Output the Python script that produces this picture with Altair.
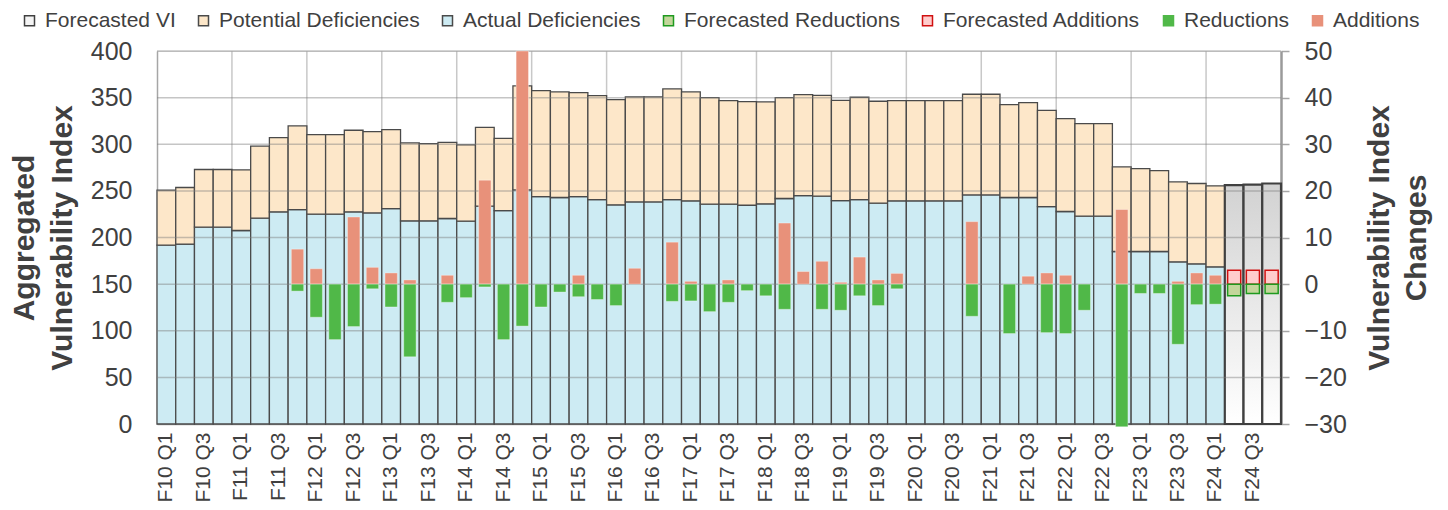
import altair as alt
import pandas as pd

FONT = "Liberation Sans, Arial, sans-serif"
TXT = "#404040"

# ---------------- data ----------------
years = list(range(10, 25))
quarters = [f"F{y} Q{q}" for y in years for q in range(1, 5)]
hist_q = quarters[:57]
fc_q = quarters[57:]

total_vi = [250.7, 253.6, 272.9, 272.9, 272.5, 297.9, 307.1, 319.6, 310.4, 310.4,
            315.0, 313.6, 315.7, 301.4, 300.7, 302.1, 299.3, 318.2, 306.4, 362.5,
            357.5, 356.1, 355.4, 352.1, 347.9, 350.7, 350.7, 359.3, 356.1, 350.0,
            346.8, 345.7, 345.4, 350.0, 353.2, 352.5, 347.1, 350.4, 346.1, 346.8,
            346.8, 346.8, 346.8, 353.6, 353.6, 342.5, 344.6, 336.4, 327.5, 322.1,
            322.1, 275.7, 273.9, 271.8, 259.6, 257.9, 255.4]
actual_def = [191.8, 192.9, 211.1, 211.1, 207.5, 220.7, 227.5, 230.0, 225.0, 225.0,
              227.5, 226.4, 231.0, 217.9, 217.9, 220.4, 217.5, 233.6, 228.9, 251.0,
              243.9, 242.9, 243.9, 240.7, 235.0, 238.2, 238.2, 240.7, 239.3, 235.7,
              235.7, 234.6, 236.1, 241.8, 245.0, 244.3, 239.6, 240.7, 236.8, 239.3,
              239.3, 239.3, 239.3, 245.7, 245.7, 242.9, 242.9, 233.2, 227.9, 222.9,
              222.9, 185.0, 185.0, 185.0, 173.9, 171.8, 168.6]
forecast_vi = [256.1, 256.8, 257.9]

additions = [0, 0, 0, 0, 0, 0, 0, 7.5, 3.3, 0,
             14.4, 3.6, 2.4, 0.9, 0, 1.9, 0, 22.3, 0, 50.0,
             0, 0, 1.9, 0, 0, 3.4, 0, 9.0, 0.6, 0,
             0.9, 0, 0, 13.1, 2.7, 4.9, 0.4, 5.8, 0.9, 2.3,
             0, 0, 0, 13.4, 0, 0, 1.7, 2.4, 1.9, 0,
             0, 16.0, 0, 0, 0.6, 2.4, 1.9]
reductions = [0, 0, 0, 0, 0, 0, 0, -1.5, -7.1, -11.9,
              -9.1, -1.0, -4.9, -15.6, 0, -3.9, -2.9, -0.6, -11.9, -9.0,
              -4.9, -1.7, -2.7, -3.3, -4.6, 0, 0, -3.7, -3.6, -5.9,
              -3.9, -1.4, -2.5, -5.4, 0, -5.4, -5.6, -2.5, -4.6, -1.0,
              0, 0, 0, -6.9, 0, -10.6, 0, -10.4, -10.6, -5.6,
              0, -30.6, -2.0, -2.0, -12.9, -4.4, -4.3]
forecast_add = [3.0, 3.0, 3.0]
forecast_red = [-2.5, -2.0, -2.0]

series_names = ["Forecasted VI", "Potential Deficiencies", "Actual Deficiencies",
                "Forecasted Reductions", "Forecasted Additions", "Reductions", "Additions"]
fill_colors = ["#f4f4f4", "#fde7c9", "#cdebf3", "#c3d69b", "#ffcccc", "#50b848", "#e8917a"]
stroke_colors = ["#404040", "#4a4a4a", "#4a4a4a", "#1f9a1f", "#d01010", "#50b848", "#e8917a"]

year_starts = [q for q in quarters if q.endswith("Q1") and q != quarters[0]]
label_values = [q for q in quarters if q.endswith("Q1") or q.endswith("Q3")]
left_ticks = list(range(0, 401, 50))
right_ticks = list(range(-30, 51, 10))

# ---------------- tables ----------------
stack_rows = []
for q, t, a in zip(hist_q, total_vi, actual_def):
    stack_rows.append({"q": q, "series": "Actual Deficiencies", "v": a, "ord": 0})
    stack_rows.append({"q": q, "series": "Potential Deficiencies", "v": round(t - a, 2), "ord": 1})
stack_df = pd.DataFrame(stack_rows)

fvi_df = pd.DataFrame({"q": fc_q, "v": forecast_vi})

chg_rows = []
for q, a, r in zip(hist_q, additions, reductions):
    if a:
        chg_rows.append({"q": q, "series": "Additions", "v": a})
    if r:
        chg_rows.append({"q": q, "series": "Reductions", "v": r})
chg_df = pd.DataFrame(chg_rows)

fchg_rows = []
for q, a, r in zip(fc_q, forecast_add, forecast_red):
    fchg_rows.append({"q": q, "series": "Forecasted Additions", "v": a})
    fchg_rows.append({"q": q, "series": "Forecasted Reductions", "v": r})
fchg_df = pd.DataFrame(fchg_rows)

vgrid_df = pd.DataFrame({"q": year_starts})
hgrid_df = pd.DataFrame({"g": left_ticks[1:]})

# ---------------- scales / axes ----------------
x_scale = alt.Scale(domain=quarters, paddingInner=0, paddingOuter=0)
x_axis = alt.Axis(values=label_values, labelAngle=270, labelFontSize=21, labelColor=TXT,
                  labelPadding=8, ticks=False, tickSize=0, domainColor="#a6a6a6",
                  domainWidth=1.5, grid=False, title=None, labelOverlap=False, labelFont=FONT)

left_scale = alt.Scale(domain=[0, 400], nice=False, zero=True)
left_axis = alt.Axis(values=left_ticks, title=["Aggregated", "Vulnerability Index"],
                     titleAngle=270, titleFontSize=30, titleFontWeight="bold", titleColor=TXT,
                     titleX=-133, titleY=186.5, titleAlign="center", titleBaseline="middle",
                     titleLineHeight=38, titleFont=FONT,
                     labelFontSize=25, labelColor=TXT, labelPadding=25, labelFont=FONT,
                     ticks=False, tickSize=0, grid=False, domainColor="#a6a6a6", domainWidth=1.5)

right_scale = alt.Scale(domain=[-30, 50], nice=False)
right_axis = alt.Axis(orient="right", values=right_ticks, title=["Vulnerability Index", "Changes"],
                      titleAngle=270, titleFontSize=30, titleFontWeight="bold", titleColor=TXT,
                      titleX=98, titleY=186.5, titleAlign="center", titleBaseline="middle",
                      titleLineHeight=37, titleFont=FONT,
                      labelFontSize=25, labelColor=TXT, labelPadding=15, labelFont=FONT,
                      ticks=True, tickSize=8, tickColor="#a6a6a6", tickWidth=1.5,
                      grid=False, domainColor="#9a9a9a", domainWidth=2.5)

fill_scale = alt.Scale(domain=series_names, range=fill_colors)
stroke_scale = alt.Scale(domain=series_names, range=stroke_colors)
leg = alt.Legend(orient="none", legendX=-138, legendY=-41, direction="horizontal", columns=7,
                 title=None, labelFontSize=21, labelColor=TXT, labelFont=FONT, labelLimit=500,
                 symbolType="square", symbolSize=100, symbolStrokeWidth=1.5,
                 labelOffset=5, columnPadding=17, padding=0)

X = alt.X("q:N", scale=x_scale, axis=x_axis, sort=quarters)

# ---------------- layers ----------------
vgrid = alt.Chart(vgrid_df).mark_rule(color="#c8c8c8", strokeWidth=1.5).encode(
    x=alt.X("q:N", scale=x_scale, axis=x_axis, sort=quarters, bandPosition=0)
)

stacked = alt.Chart(stack_df).mark_bar(strokeWidth=1.3).encode(
    x=X,
    y=alt.Y("v:Q", stack="zero", scale=left_scale, axis=left_axis),
    fill=alt.Fill("series:N", scale=fill_scale, legend=leg),
    stroke=alt.Stroke("series:N", scale=stroke_scale, legend=leg),
    order=alt.Order("ord:Q"),
)

gradient = {"gradient": "linear", "x1": 0, "y1": 0, "x2": 0, "y2": 1,
            "stops": [{"offset": 0, "color": "#d2d2d2"}, {"offset": 1, "color": "#ffffff"}]}
fvi = alt.Chart(fvi_df).mark_bar(fill=gradient, stroke="#404040", strokeWidth=2.2).encode(
    x=X,
    y=alt.Y("v:Q", scale=left_scale, axis=left_axis),
)

hgrid = alt.Chart(hgrid_df).mark_rule(color="#7f7f7f", opacity=0.45, strokeWidth=1.5).encode(
    y=alt.Y("g:Q", scale=left_scale, axis=left_axis)
)

changes = alt.Chart(chg_df).mark_bar(width=alt.RelativeBandSize(0.66), stroke="#ffffff",
                                     strokeOpacity=0.35, strokeWidth=1).encode(
    x=X,
    y=alt.Y("v:Q", scale=right_scale, axis=right_axis, stack=None),
    fill=alt.Fill("series:N", scale=fill_scale, legend=leg),
)

fchanges = alt.Chart(fchg_df).mark_bar(width=alt.RelativeBandSize(0.7), strokeWidth=1.5).encode(
    x=X,
    y=alt.Y("v:Q", scale=right_scale, axis=right_axis, stack=None),
    fill=alt.Fill("series:N", scale=fill_scale, legend=leg),
    stroke=alt.Stroke("series:N", scale=stroke_scale, legend=leg),
)

left_group = alt.layer(vgrid, stacked, fvi, hgrid)
right_group = alt.layer(changes, fchanges)

chart = alt.layer(left_group, right_group).resolve_scale(y="independent").properties(
    width=1124, height=373,
    autosize=alt.AutoSizeParams(type="none"),
    padding={"left": 149, "top": 43, "right": 159, "bottom": 78},
).configure_view(stroke=None).configure(font=FONT)

chart.save("out.html", embed_options={"renderer": "svg", "actions": False})
